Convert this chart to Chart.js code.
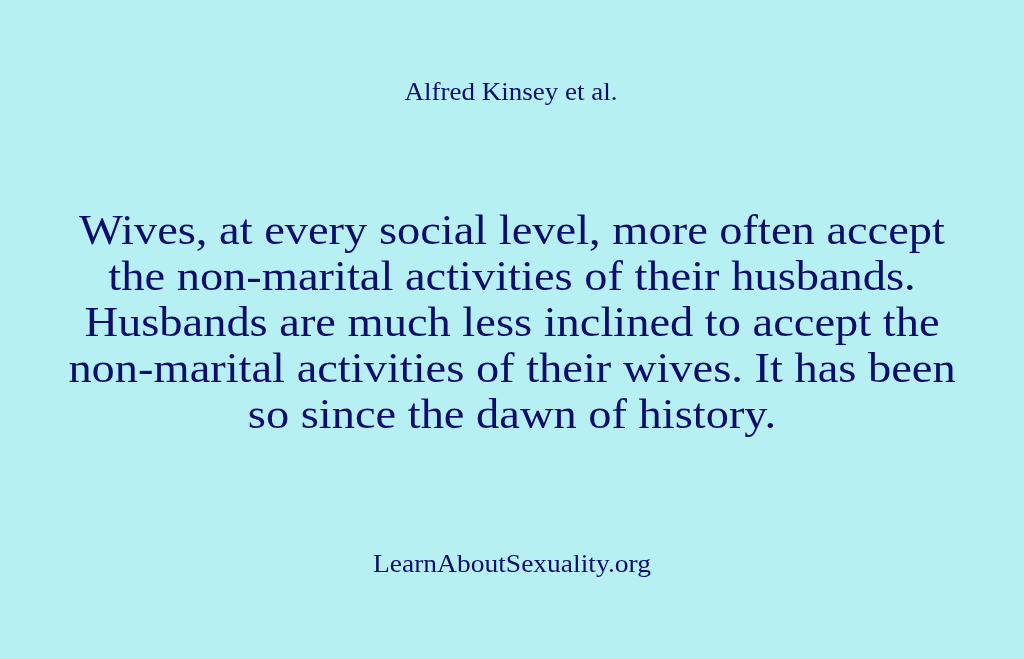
<!DOCTYPE html>
<html lang="en">
<head>
    <meta charset="UTF-8">
    <title>Alfred Kinsey et al.</title>
    <style>
        html, body {
            margin: 0;
            padding: 0;
            background-color: #b6f0f3;
            overflow: hidden;
        }
        #wrap {
            width: 1024px;
            height: 659px;
        }
    </style>
    <script src="https://cdn.jsdelivr.net/npm/chart.js"></script>
</head>
<body>
    <div id="wrap"><canvas id="quoteChart"></canvas></div>

    <script>
        const author = 'Alfred Kinsey et al.';
        const quoteLines = [
            'Wives, at every social level, more often accept',
            'the non-marital activities of their husbands.',
            'Husbands are much less inclined to accept the',
            'non-marital activities of their wives. It has been',
            'so since the dawn of history.'
        ];
        const site = 'LearnAboutSexuality.org';

        const ink = '#0d0d6c';
        const face = '"Liberation Serif", "DejaVu Serif", serif';

        // one line of text, centred, stretched a bit to match the wider original face
        function stretched(c, text, x, y, sx) {
            c.save();
            c.translate(x, y);
            c.scale(sx, 1);
            c.fillText(text, 0, 0);
            c.restore();
        }

        const quoteText = {
            id: 'quoteText',
            afterDraw(chart) {
                const c = chart.ctx;
                const mid = chart.width / 2;
                c.save();
                c.fillStyle = ink;
                c.textAlign = 'center';
                c.textBaseline = 'alphabetic';

                c.font = '25px ' + face;
                stretched(c, author, mid - 1, 100, 1.08);

                c.font = '43px ' + face;
                quoteLines.forEach((line, i) => {
                    stretched(c, line, mid, 244 + i * 46, 1.08);
                });

                c.font = '25px ' + face;
                stretched(c, site, mid, 572, 1.1);
                c.restore();
            }
        };

        new Chart(document.getElementById('quoteChart'), {
            type: 'bar',
            data: { labels: [], datasets: [] },
            options: {
                responsive: true,
                maintainAspectRatio: false,
                animation: false,
                plugins: { legend: { display: false }, tooltip: { enabled: false } },
                scales: { x: { display: false }, y: { display: false } }
            },
            plugins: [quoteText]
        });
    </script>
</body>
</html>
